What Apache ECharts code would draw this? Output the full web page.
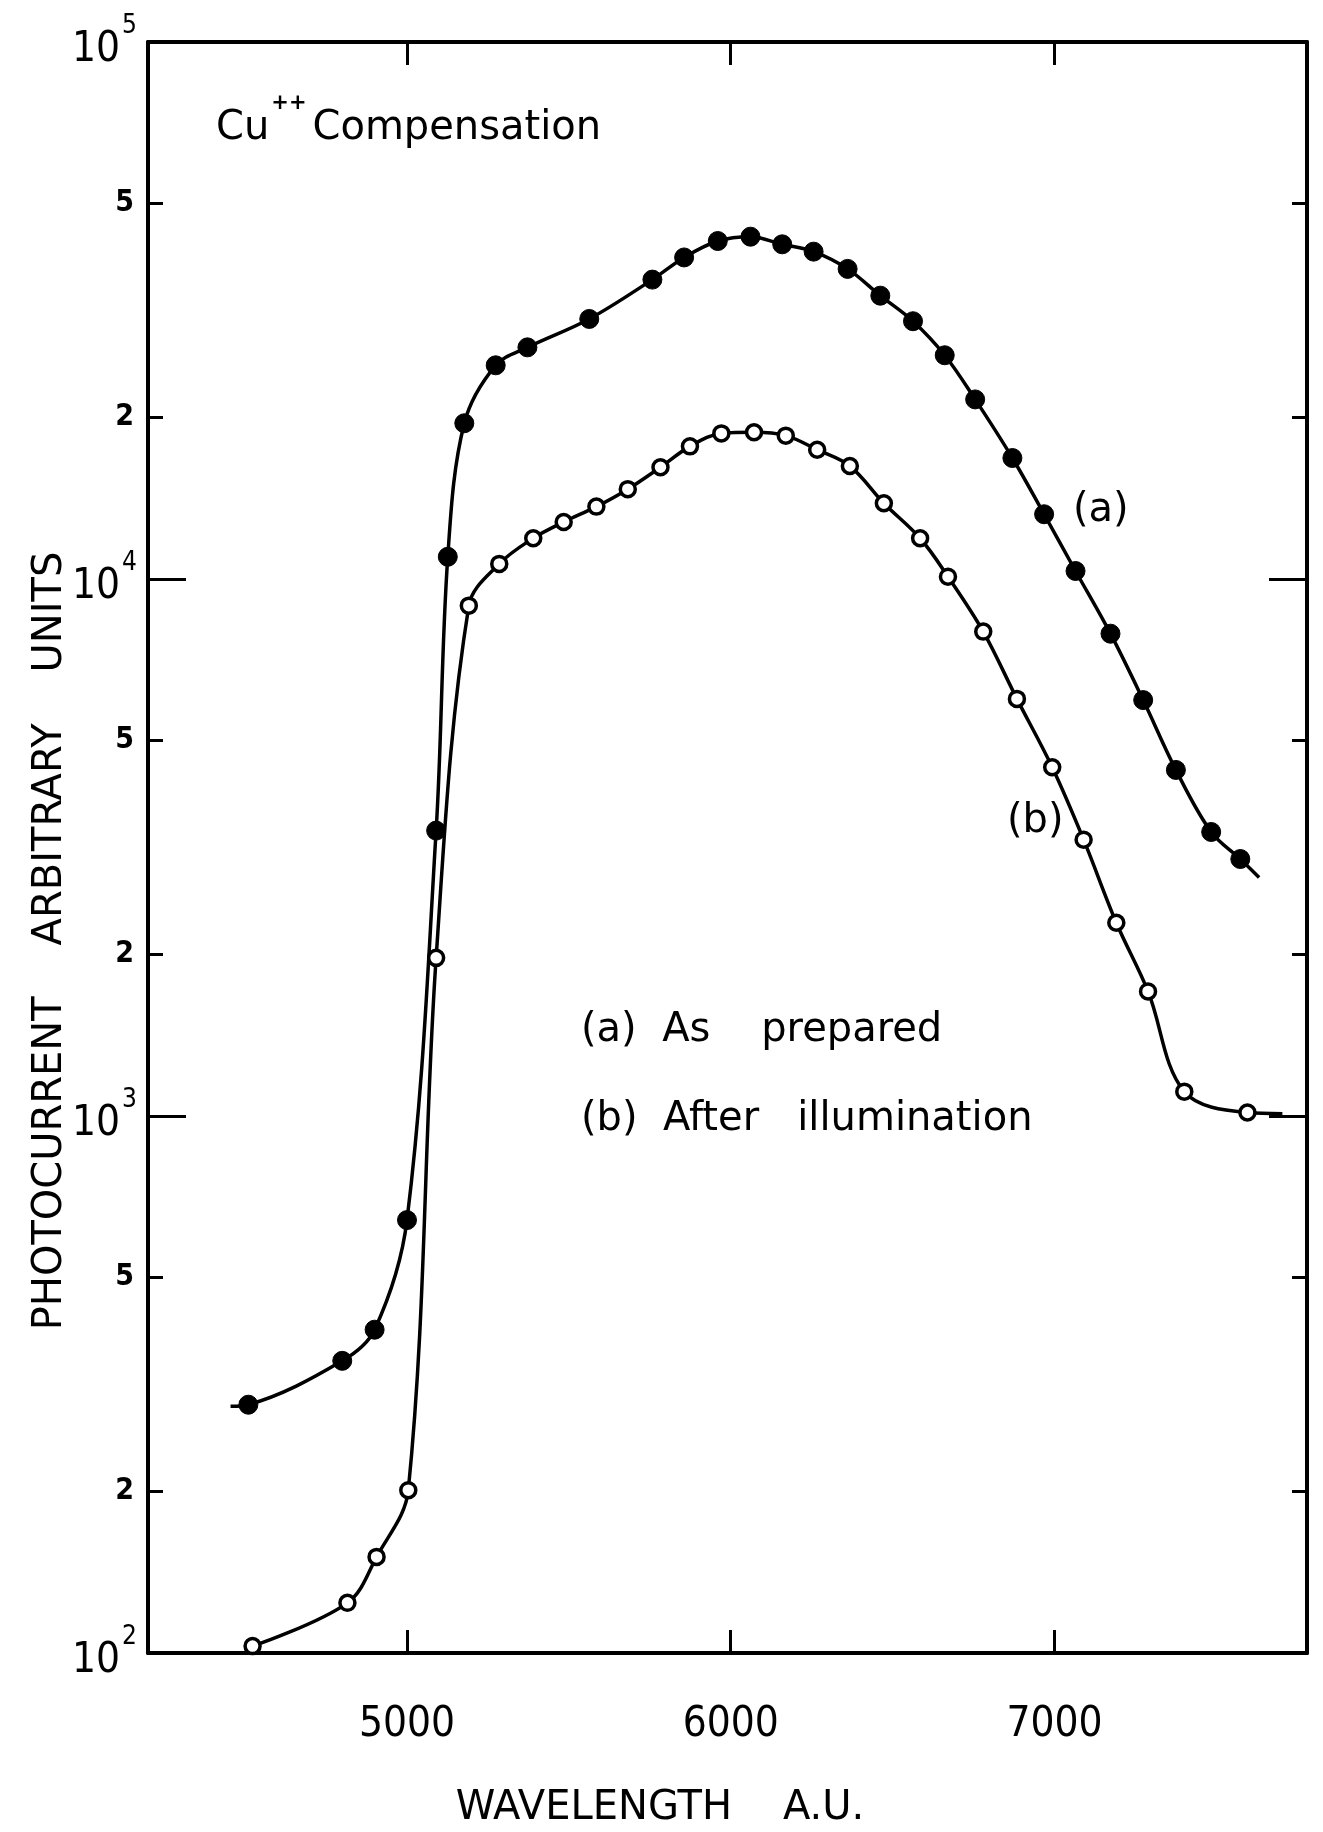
<!DOCTYPE html>
<html><head><meta charset="utf-8">
<script src="https://cdn.jsdelivr.net/npm/echarts@6/dist/echarts.min.js"></script>
<style>html,body{margin:0;padding:0;background:#fff}#c{width:1323px;height:1832px}</style>
</head><body><div id="c"></div>
<script>
// ---- data ----
const waveA = [4510, 4800, 4900, 5000, 5090, 5126, 5177, 5274, 5372, 5563, 5758, 5856, 5960, 6061, 6159, 6256, 6361, 6462, 6563, 6661, 6755, 6870, 6968, 7065, 7173, 7274, 7375, 7484, 7574];
const currentA = [290, 350, 400, 640, 3400, 11000, 19500, 25000, 27000, 30500, 36100, 39700, 42600, 43400, 42000, 40700, 37800, 33700, 30200, 26100, 21600, 16800, 13200, 10350, 7910, 5950, 4410, 3380, 3010];
const lineEndsA = [[4455, 288], [7632, 2780]];

const waveB = [4523, 4816, 4906, 5004, 5090, 5191, 5285, 5390, 5484, 5585, 5682, 5783, 5874, 5971, 6072, 6170, 6267, 6368, 6473, 6585, 6671, 6780, 6884, 6993, 7090, 7191, 7289, 7401, 7596];
const currentB = [103, 124, 151, 201, 1970, 8920, 10670, 11910, 12770, 13640, 14700, 16150, 17660, 18670, 18760, 18490, 17410, 16230, 13840, 11910, 10100, 7980, 5980, 4460, 3270, 2290, 1706, 1110, 1015];
const lineEndsB = [[7704, 1010]];

const xTicks = [5000, 6000, 7000];
const yMajorTicks = [100, 1000, 10000, 100000];
const yMinorTicks = [200, 500, 2000, 5000, 20000, 50000];

const seriesNames = ['(a)  As    prepared', '(b)  After   illumination'];
const curveTags = ['(a)', '(b)'];
const titleText = ['Cu', '++', 'Compensation'];
const xTitle = 'WAVELENGTH    A.U.';
const yTitle = 'PHOTOCURRENT    ARBITRARY    UNITS';

// ---- build ----
const NUMFONT = "'Liberation Sans Narrow', 'DejaVu Sans Condensed', 'Liberation Sans', sans-serif";
const TXTFONT = "'DejaVu Sans', 'Liberation Sans', sans-serif";

function zipPts(xs, ys) { return xs.map((x, i) => [x, ys[i]]); }
function withEnds(pts, ends) {
  const all = pts.map(p => ({ value: p }));
  ends.forEach(e => all.push({ value: e, symbol: 'none' }));
  all.sort((a, b) => a.value[0] - b.value[0]);
  return all;
}

const frame = { show: true, lineStyle: { color: '#000', width: 4 } };
const X0 = 4200, X1 = 7780;

const chart = echarts.init(document.getElementById('c'), null, { renderer: 'canvas' });
chart.setOption({
  backgroundColor: '#fff',
  animation: false,
  grid: { left: 148, right: 16, top: 42, bottom: 179, containLabel: false },
  xAxis: [
    {
      type: 'value', min: X0, max: X1, position: 'bottom',
      axisLine: frame, splitLine: { show: false },
      axisTick: { show: true, inside: true, length: 23, customValues: xTicks, lineStyle: { color: '#000', width: 3 } },
      axisLabel: { show: true, customValues: xTicks, margin: 51, color: '#000', fontFamily: NUMFONT, fontSize: 42, lineHeight: 42, formatter: v => String(v) }
    },
    {
      type: 'value', min: X0, max: X1, position: 'top',
      axisLine: frame, splitLine: { show: false },
      axisTick: { show: true, inside: true, length: 23, customValues: xTicks, lineStyle: { color: '#000', width: 3 } },
      axisLabel: { show: false }
    }
  ],
  yAxis: [
    {
      type: 'log', logBase: 10, min: 100, max: 100000, position: 'left',
      axisLine: frame, splitLine: { show: false }, minorTick: { show: false },
      axisTick: { show: true, inside: true, length: 38, customValues: yMajorTicks, lineStyle: { color: '#000', width: 3 } },
      axisLabel: {
        show: true, customValues: yMajorTicks, margin: 11, color: '#000', align: 'right',
        formatter: v => '{b|10}{s|' + Math.round(Math.log10(v)) + '}',
        rich: {
          b: { fontFamily: NUMFONT, fontSize: 42, lineHeight: 42, color: '#000', verticalAlign: 'bottom' },
          s: { fontFamily: NUMFONT, fontSize: 26, lineHeight: 58, color: '#000', verticalAlign: 'top', padding: [0, 0, 0, 2] }
        }
      }
    },
    {
      type: 'log', logBase: 10, min: 100, max: 100000, position: 'left',
      axisLine: { show: false }, splitLine: { show: false }, minorTick: { show: false },
      axisTick: { show: true, inside: true, length: 15, customValues: yMinorTicks, lineStyle: { color: '#000', width: 3 } },
      axisLabel: {
        show: true, customValues: yMinorTicks, margin: 14, color: '#000', fontFamily: NUMFONT, fontSize: 30, fontWeight: 'bold',
        formatter: v => String(Math.round(v / Math.pow(10, Math.floor(Math.log10(v) + 1e-9))))
      }
    },
    {
      type: 'log', logBase: 10, min: 100, max: 100000, position: 'right',
      axisLine: frame, splitLine: { show: false }, minorTick: { show: false },
      axisTick: { show: true, inside: true, length: 38, customValues: yMajorTicks, lineStyle: { color: '#000', width: 3 } },
      axisLabel: { show: false }
    },
    {
      type: 'log', logBase: 10, min: 100, max: 100000, position: 'right',
      axisLine: { show: false }, splitLine: { show: false }, minorTick: { show: false },
      axisTick: { show: true, inside: true, length: 15, customValues: yMinorTicks, lineStyle: { color: '#000', width: 3 } },
      axisLabel: { show: false }
    }
  ],
  series: [
    {
      name: seriesNames[0], type: 'line', xAxisIndex: 0, yAxisIndex: 0,
      data: withEnds(zipPts(waveA, currentA), lineEndsA),
      smooth: 0.35,
      lineStyle: { color: '#000', width: 3.5 },
      symbol: 'circle', symbolSize: 19,
      itemStyle: { color: '#000', borderColor: '#000', borderWidth: 1 },
      z: 3
    },
    {
      name: seriesNames[1], type: 'line', xAxisIndex: 0, yAxisIndex: 0,
      data: withEnds(zipPts(waveB, currentB), lineEndsB),
      smooth: 0.35,
      lineStyle: { color: '#000', width: 3.5 },
      symbol: 'circle', symbolSize: 15, showAllSymbol: true,
      itemStyle: { color: '#fff', borderColor: '#000', borderWidth: 3.5 },
      z: 3
    }
  ],
  graphic: [
    {
      type: 'text', left: 216, top: 93,
      style: {
        text: '{n|' + titleText[0] + '}{p|' + titleText[1] + '}{n|' + titleText[2] + '}',
        rich: {
          n: { fontFamily: TXTFONT, fontSize: 40, lineHeight: 42, fill: '#000', verticalAlign: 'bottom' },
          p: { fontFamily: TXTFONT, fontSize: 21, lineHeight: 56, fill: '#000', verticalAlign: 'top', padding: [0, 6, 0, 2], fontWeight: 'bold' }
        }
      }
    },
    { type: 'text', left: 1073, top: 491, style: { text: curveTags[0], fontFamily: TXTFONT, fontSize: 40, fill: '#000' } },
    { type: 'text', left: 1007, top: 802, style: { text: curveTags[1], fontFamily: TXTFONT, fontSize: 40, fill: '#000' } },
    { type: 'text', left: 581, top: 1011, style: { text: seriesNames[0], fontFamily: TXTFONT, fontSize: 40, fill: '#000' } },
    { type: 'text', left: 581, top: 1100, style: { text: seriesNames[1], fontFamily: TXTFONT, fontSize: 40, fill: '#000' } },
    { type: 'text', x: 660, y: 1809, style: { text: xTitle, fontFamily: TXTFONT, fontSize: 40, fill: '#000', align: 'center', verticalAlign: 'middle' } },
    { type: 'text', x: 51, y: 941, rotation: Math.PI / 2, style: { text: yTitle, fontFamily: TXTFONT, fontSize: 40, fill: '#000', align: 'center', verticalAlign: 'middle' } }
  ]
});
</script>
</body></html>
